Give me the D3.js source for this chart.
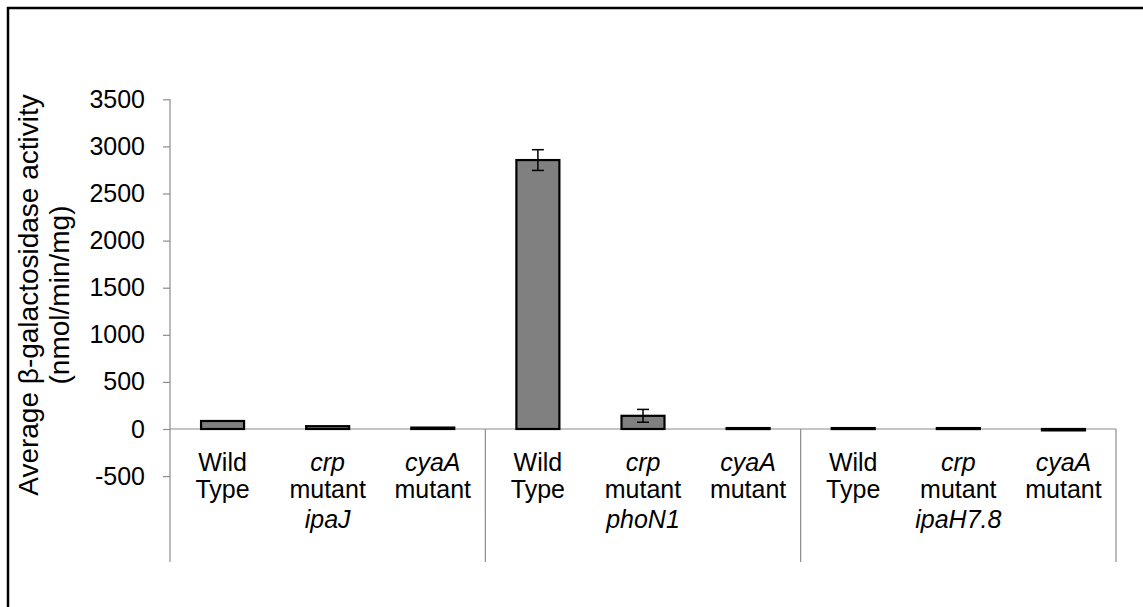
<!DOCTYPE html>
<html><head><meta charset="utf-8">
<script src="https://cdn.jsdelivr.net/npm/d3@7"></script>
<style>html,body{margin:0;padding:0;background:#fff;}svg{display:block;}</style>
</head><body>
<svg id="chart" width="1143" height="607"></svg>
<script>
const groups = ["ipaJ", "phoN1", "ipaH7.8"];
const strains = [["Wild", "Type"], ["crp", "mutant"], ["cyaA", "mutant"]];
const strainItalic = [false, true, true];
const values = [
  [85, 30, 15],
  [2855, 140, 10],
  [10, 10, -15]
];
const errors = [
  [0, 0, 0],
  [110, 68, 0],
  [0, 0, 0]
];
const yTicks = [-500, 0, 500, 1000, 1500, 2000, 2500, 3000, 3500];
const yTitle = ["Average β-galactosidase activity", "(nmol/min/mg)"];

const data = [];
groups.forEach((g, gi) => strains.forEach((s, si) => data.push({
  key: g + "|" + si, group: g, gi, si, value: values[gi][si], err: errors[gi][si]
})));

const svg = d3.select("#chart");
const font = "'Liberation Sans', Arial, sans-serif";
const axisColor = "#8c8c8c";

// outer frame
svg.append("rect").attr("x", 8).attr("y", 8).attr("width", 1160).attr("height", 640)
  .attr("fill", "none").attr("stroke", "#000").attr("stroke-width", 2.5);

const x0 = 170, x1 = 1116;
const y = d3.scaleLinear().domain([-500, 3500]).range([476.1, 99.3]);
const x = d3.scaleBand().domain(data.map(d => d.key)).range([x0, x1]).paddingInner(0).paddingOuter(0);
const gx = d3.scaleBand().domain(groups).range([x0, x1]);

// y axis
const yAxis = d3.axisLeft(y).tickValues(yTicks).tickSize(7).tickPadding(18).tickFormat(d => String(d));
const ya = svg.append("g").attr("transform", `translate(${x0},0)`).call(yAxis);
ya.select(".domain").remove();
ya.selectAll(".tick line").attr("stroke", axisColor).attr("stroke-width", 1.2);
ya.selectAll(".tick text").attr("font-family", font).attr("font-size", 25).attr("fill", "#000");
svg.append("line").attr("x1", x0).attr("x2", x0).attr("y1", y(3500)).attr("y2", 562)
  .attr("stroke", axisColor).attr("stroke-width", 1.2);

// zero line
svg.append("line").attr("x1", x0).attr("x2", x1).attr("y1", y(0)).attr("y2", y(0))
  .attr("stroke", axisColor).attr("stroke-width", 1.2);

// group separators
groups.forEach(g => {
  const xe = gx(g) + gx.bandwidth();
  svg.append("line").attr("x1", xe).attr("x2", xe).attr("y1", y(0)).attr("y2", 562)
    .attr("stroke", axisColor).attr("stroke-width", 1.2);
});

// bars
const bw = 43;
svg.append("g").selectAll("rect").data(data).join("rect")
  .attr("x", d => x(d.key) + x.bandwidth() / 2 - bw / 2)
  .attr("width", bw)
  .attr("y", d => Math.min(y(d.value), y(0)))
  .attr("height", d => Math.max(1, Math.abs(y(d.value) - y(0))))
  .attr("fill", "#808080").attr("stroke", "#000").attr("stroke-width", 2.2);

// error bars
const eb = svg.append("g").selectAll("g").data(data.filter(d => d.err > 0)).join("g");
eb.append("line")
  .attr("x1", d => x(d.key) + x.bandwidth() / 2).attr("x2", d => x(d.key) + x.bandwidth() / 2)
  .attr("y1", d => y(d.value + d.err)).attr("y2", d => y(d.value - d.err))
  .attr("stroke", "#000").attr("stroke-width", 1.5);
eb.selectAll("line.cap").data(d => [d.value + d.err, d.value - d.err].map(v => ({ d, v }))).join("line")
  .attr("class", "cap")
  .attr("x1", o => x(o.d.key) + x.bandwidth() / 2 - 6).attr("x2", o => x(o.d.key) + x.bandwidth() / 2 + 6)
  .attr("y1", o => y(o.v)).attr("y2", o => y(o.v))
  .attr("stroke", "#000").attr("stroke-width", 1.5);

// category labels
const cl = svg.append("g").selectAll("text").data(data).join("text")
  .attr("x", d => x(d.key) + x.bandwidth() / 2)
  .attr("text-anchor", "middle").attr("font-family", font).attr("font-size", 25).attr("fill", "#000");
cl.append("tspan").attr("x", d => x(d.key) + x.bandwidth() / 2).attr("y", 471)
  .attr("font-style", d => strainItalic[d.si] ? "italic" : "normal").text(d => strains[d.si][0]);
cl.append("tspan").attr("x", d => x(d.key) + x.bandwidth() / 2).attr("y", 498)
  .text(d => strains[d.si][1]);

// group labels
svg.append("g").selectAll("text").data(groups).join("text")
  .attr("x", g => gx(g) + gx.bandwidth() / 2).attr("y", 528)
  .attr("text-anchor", "middle").attr("font-family", font).attr("font-size", 25)
  .attr("font-style", "italic").text(g => g);

// y title
const ty = 295;
yTitle.forEach((t, i) => {
  svg.append("text").attr("transform", `translate(${38 + i * 31},${ty}) rotate(-90)`)
    .attr("text-anchor", "middle").attr("font-family", font).attr("font-size", 28)
    .attr("fill", "#000").text(t);
});
</script>
</body></html>
